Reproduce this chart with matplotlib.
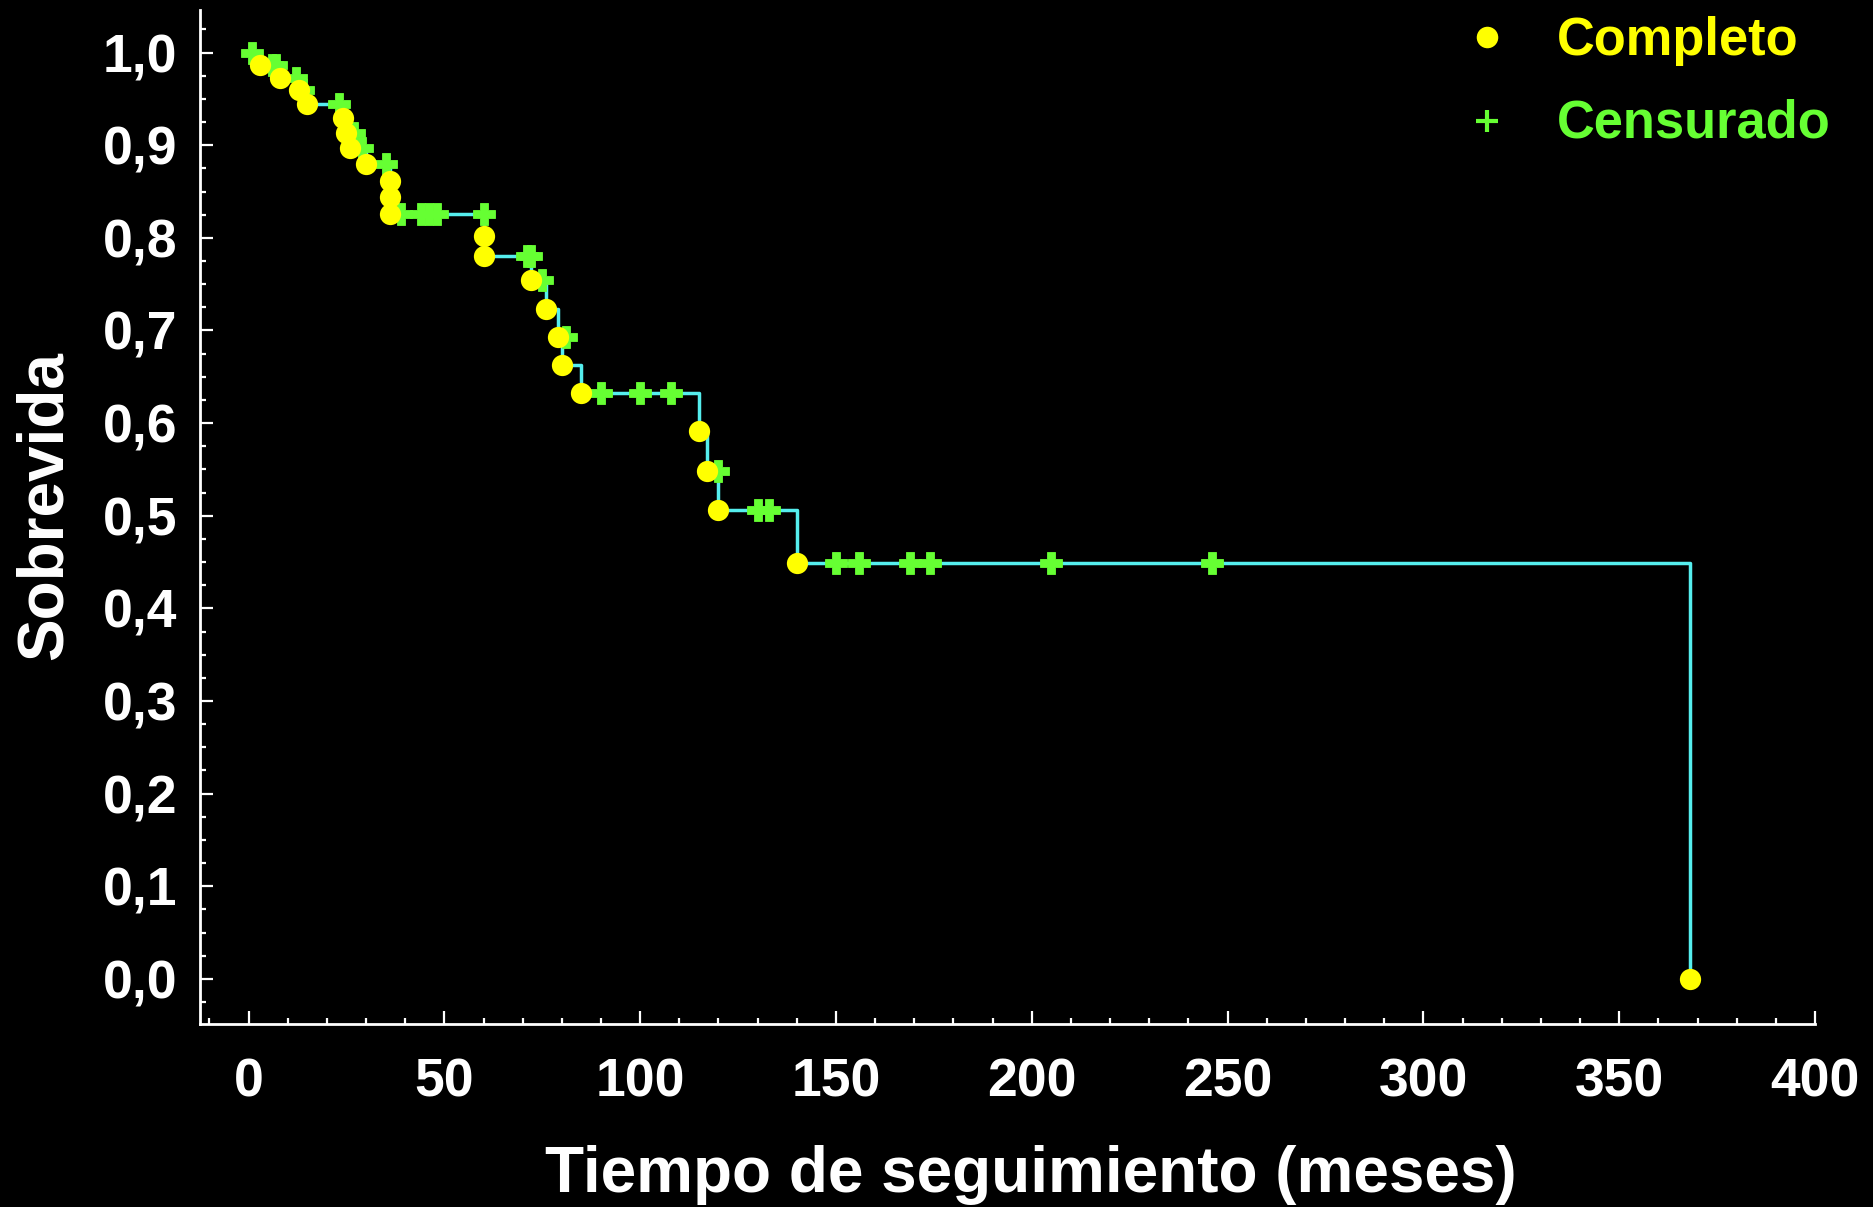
import matplotlib
matplotlib.use('Agg')
import matplotlib.pyplot as plt
from matplotlib.lines import Line2D
from matplotlib.ticker import MultipleLocator

plt.rcParams['font.family'] = ['Liberation Sans', 'DejaVu Sans']
plt.rcParams['font.weight'] = 'bold'

# Datos de la curva (eventos = Completo, censuras = Censurado)
event_t = [3, 8, 13, 15, 24, 25, 26, 30, 36, 36, 36, 60, 60, 72, 76, 79, 80, 85,
           115, 117, 120, 140, 368]
event_s = [0.987, 0.973, 0.960, 0.945, 0.929, 0.913, 0.897, 0.880, 0.861, 0.844,
           0.826, 0.802, 0.780, 0.754, 0.723, 0.693, 0.663, 0.632, 0.591, 0.548,
           0.506, 0.449, 0.000]

cens_t = [1, 6, 7, 12, 14, 23, 27, 29, 35, 39, 44, 46, 48, 60, 71, 72, 75, 81,
          90, 100, 108, 120, 130, 133, 150, 156, 169, 174, 205, 246]
cens_s = [1.000, 0.987, 0.987, 0.973, 0.960, 0.945, 0.913, 0.897, 0.880, 0.826,
          0.826, 0.826, 0.826, 0.826, 0.780, 0.780, 0.754, 0.693, 0.632, 0.632,
          0.632, 0.548, 0.506, 0.506, 0.449, 0.449, 0.449, 0.449, 0.449, 0.449]

x_ticks = [0, 50, 100, 150, 200, 250, 300, 350, 400]
y_ticks = [0.0, 0.1, 0.2, 0.3, 0.4, 0.5, 0.6, 0.7, 0.8, 0.9, 1.0]
y_tick_labels = ['0,0', '0,1', '0,2', '0,3', '0,4', '0,5', '0,6', '0,7', '0,8', '0,9', '1,0']

amarillo = '#ffff00'
verde = '#66ff33'
cian = '#55eeee'

W, H = 1874, 1207
fig = plt.figure(figsize=(W / 100, H / 100), dpi=100, facecolor='black')
ax = fig.add_axes([200 / W, 1 - 1024 / H, (1815 - 200) / W, (1024 - 10) / H])
ax.set_facecolor('black')

# curva escalonada
step_t = [0] + event_t
step_s = [1.0] + event_s
ax.plot(step_t, step_s, drawstyle='steps-post', color=cian, lw=2.5, zorder=2)

# marcadores
ax.plot(cens_t, cens_s, ls='', marker='P', ms=16, color=verde,
        markeredgecolor=verde, mew=0.6, zorder=3)
ax.plot(event_t, event_s, ls='', marker='o', ms=15.3, color=amarillo, mew=0, zorder=4)

ax.set_xlim(-12.4, 400)
ax.set_ylim(-0.0487, 1.046)

ax.set_xticks(x_ticks)
ax.set_xticklabels([str(v) for v in x_ticks])
ax.xaxis.set_minor_locator(MultipleLocator(10))
ax.set_yticks(y_ticks)
ax.set_yticklabels(y_tick_labels)
ax.yaxis.set_minor_locator(MultipleLocator(0.025))

for s in ['top', 'right']:
    ax.spines[s].set_visible(False)
for s in ['left', 'bottom']:
    ax.spines[s].set_color('white')
    ax.spines[s].set_linewidth(2)

ax.tick_params(axis='both', which='both', direction='in', colors='white', width=1.6)
ax.tick_params(axis='both', which='major', length=9.5, labelsize=38.5)
ax.tick_params(axis='both', which='minor', length=4.5)
ax.tick_params(axis='x', which='major', pad=24)
ax.tick_params(axis='y', which='major', pad=16.5)
for lab in ax.get_xticklabels() + ax.get_yticklabels():
    lab.set_fontweight('bold')

# títulos de ejes
fig.text(1031 / W, 1 - 1191.7 / H, 'Tiempo de seguimiento (meses)', color='white',
         fontsize=46, fontweight='bold', ha='center', va='baseline')
fig.text(62 / W, 1 - 506 / H, 'Sobrevida', color='white', fontsize=46,
         fontweight='bold', rotation=90, rotation_mode='anchor',
         ha='center', va='baseline')

# leyenda
fig.add_artist(Line2D([1486.7 / W], [1 - 36.7 / H], marker='o', ms=15.5, color=amarillo,
                      mew=0, ls='', transform=fig.transFigure))
fig.add_artist(Line2D([1486.7 / W], [1 - 120.7 / H], marker='+', ms=16, color=verde,
                      mew=3, ls='', transform=fig.transFigure))
fig.text(1557 / W, 1 - 55 / H, 'Completo', color=amarillo, fontsize=37.8,
         fontweight='bold', ha='left', va='baseline')
fig.text(1557 / W, 1 - 138 / H, 'Censurado', color=verde, fontsize=37.8,
         fontweight='bold', ha='left', va='baseline')

fig.savefig('out.png', dpi=100, facecolor='black')
